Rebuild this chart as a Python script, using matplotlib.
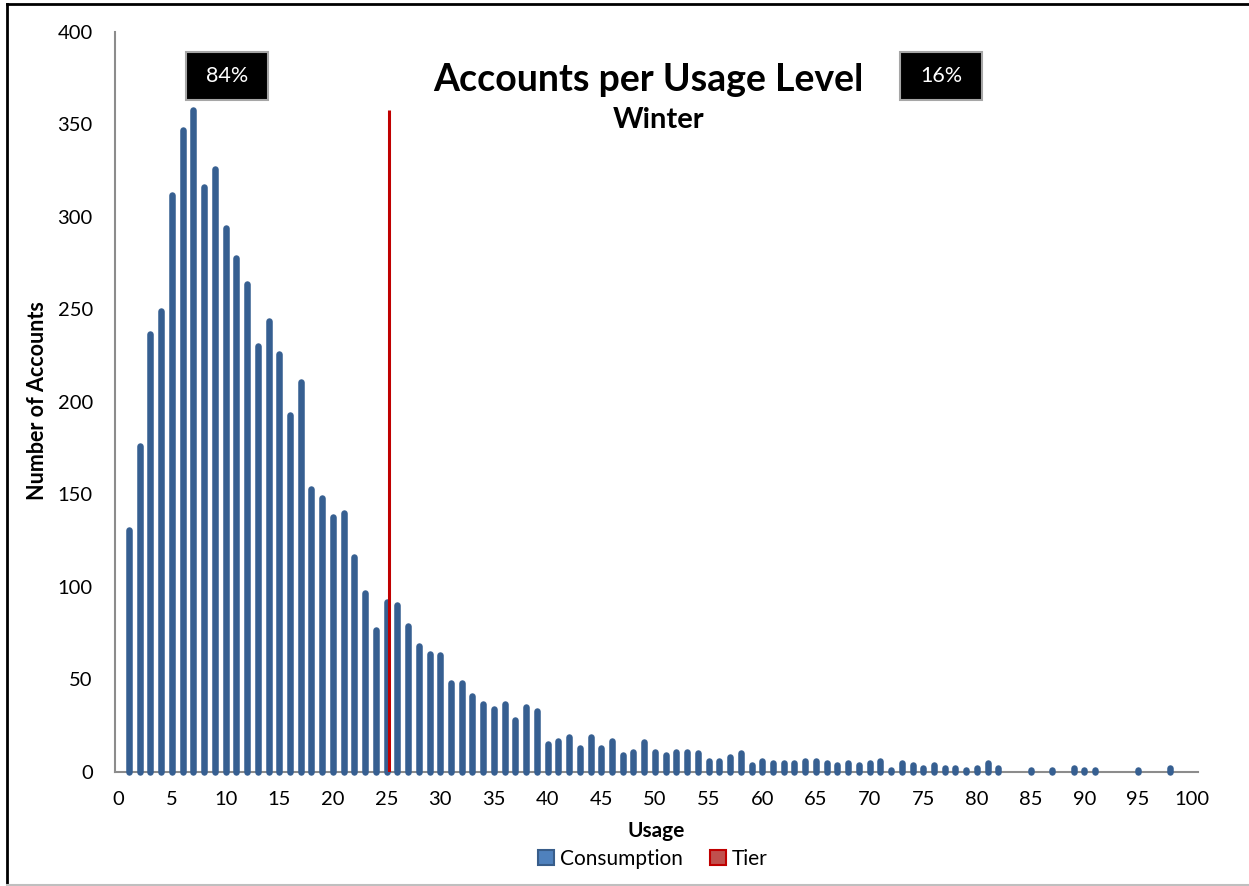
import numpy as np
import matplotlib
matplotlib.use('Agg')
import matplotlib.pyplot as plt
from matplotlib.patches import Patch, Rectangle
from matplotlib.lines import Line2D

plt.rcParams['font.family'] = ['Lato', 'DejaVu Sans']

# usage level 1..100 and number of accounts
usage = list(range(1, 101))
accounts = [131, 176, 237, 249, 312, 347, 358, 316, 326, 294,
            278, 264, 230, 244, 226, 193, 211, 153, 148, 138,
            140, 116, 97, 77, 92, 90, 79, 68, 64, 63,
            48, 48, 41, 37, 34, 37, 28, 35, 33, 15,
            17, 19, 13, 19, 13, 17, 9, 11, 16, 11,
            9, 11, 11, 10, 6, 6, 8, 10, 4, 6,
            5, 5, 5, 6, 6, 5, 4, 5, 4, 5,
            6, 1, 5, 4, 2, 4, 2, 2, 1, 2,
            5, 2, 0, 0, 1, 0, 1, 0, 2, 1,
            1, 0, 0, 0, 1, 0, 0, 2, 0, 0]
tier_x = 25.2
tier_top = 358
share_labels = ['84%', '16%']

fig = plt.figure(figsize=(12.49, 8.86), dpi=100)
ax = fig.add_axes([0.0921, 0.1287, 0.8671, 0.8352])

# only draw non-zero counts
x = np.array(usage)
y = np.array(accounts)
keep = y > 0
lc = ax.vlines(x[keep], 0, y[keep], colors='#365F91', linewidth=4.7, clip_on=False, zorder=3)
lc.set_capstyle('round')

ax.vlines([tier_x], 0, tier_top, colors='#C00000', linewidth=2.2, zorder=4)

ax.set_xlim(-0.3, 100.6)
ax.set_ylim(0, 400)
ax.set_xticks(range(0, 101, 5))
ax.set_yticks(range(0, 401, 50))
ax.tick_params(length=0, labelsize=14.5, colors='black')
ax.tick_params(axis='y', pad=16)
ax.tick_params(axis='x', pad=14)
for s in ['top', 'right']:
    ax.spines[s].set_visible(False)
for s in ['left', 'bottom']:
    ax.spines[s].set_color('#8C8C8C')
    ax.spines[s].set_linewidth(1.5)

# percentage boxes
for x0, lab in zip([0.0656, 0.7248], share_labels):
    ax.add_patch(Rectangle((x0, 0.908), 0.0757, 0.0649, transform=ax.transAxes,
                           facecolor='black', edgecolor='#A6A6A6', lw=1.5, clip_on=False, zorder=5))
    ax.text(x0 + 0.0757 / 2, 0.908 + 0.0649 / 2, lab, transform=ax.transAxes, color='white',
            fontsize=15.5, ha='center', va='center', zorder=6)

fig.text(0.519, 0.910, 'Accounts per Usage Level', fontsize=27, fontweight='bold', ha='center', va='center')
fig.text(0.527, 0.865, 'Winter', fontsize=21, fontweight='bold', ha='center', va='center')
fig.text(0.0304, 0.548, 'Number of Accounts', fontsize=15.5, fontweight='bold', rotation=90,
         ha='center', va='center')
fig.text(0.525, 0.062, 'Usage', fontsize=15, fontweight='bold', ha='center', va='center')

handles = [Patch(facecolor='#4F81BD', edgecolor='#385D8A', lw=1.5),
           Patch(facecolor='#C0504D', edgecolor='#C00000', lw=1.5)]
fig.legend(handles, ['Consumption', 'Tier'], loc='center', bbox_to_anchor=(0.523, 0.0305), ncol=2,
           frameon=False, fontsize=15, handlelength=0.75, handleheight=0.75,
           handletextpad=0.3, columnspacing=1.3)

# outer frame
fig.add_artist(Line2D([7 / 1249, 7 / 1249], [1 / 886, 1 - 4 / 886], transform=fig.transFigure, color='black', lw=2))
fig.add_artist(Line2D([7 / 1249, 1], [1 - 4 / 886, 1 - 4 / 886], transform=fig.transFigure, color='black', lw=2))
fig.add_artist(Line2D([7 / 1249, 1], [1 / 886, 1 / 886], transform=fig.transFigure, color='#BFBFBF', lw=1.5))

plt.savefig('out.png', dpi=100)
